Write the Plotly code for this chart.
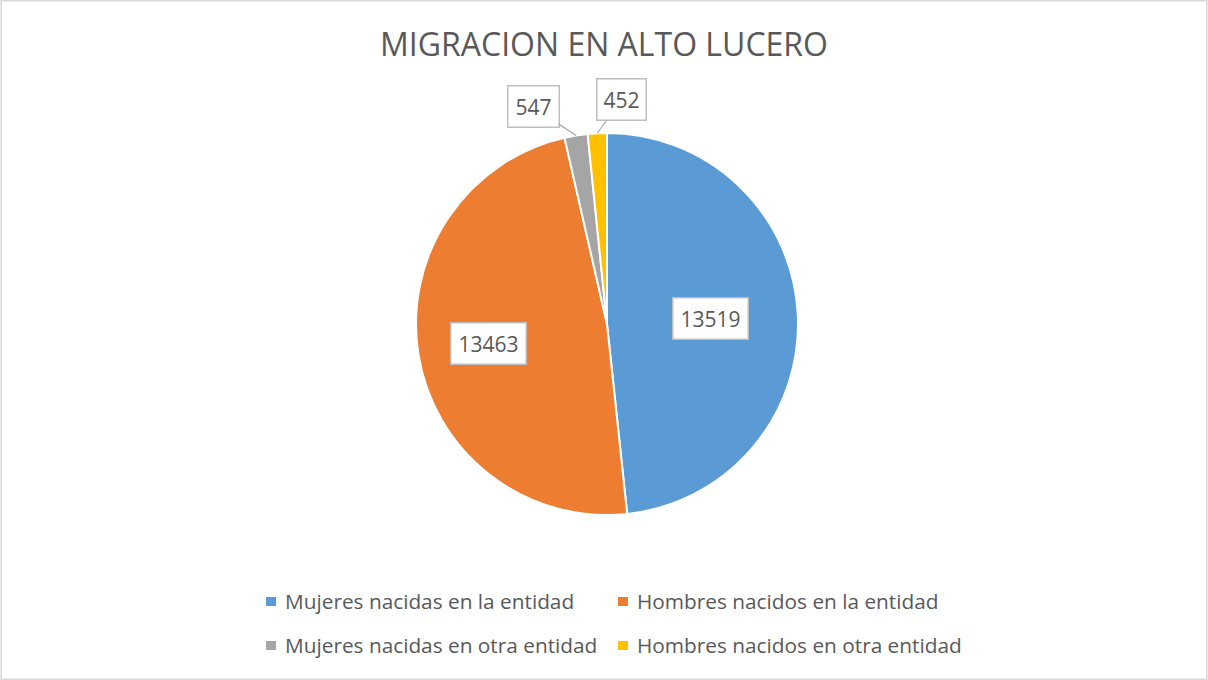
import math
import plotly.graph_objects as go

title = "MIGRACION EN ALTO LUCERO"
labels = ["Mujeres nacidas en la entidad", "Hombres nacidos en la entidad",
          "Mujeres nacidas en otra entidad", "Hombres nacidos en otra entidad"]
values = [13519, 13463, 547, 452]
colors = ["#5B9BD5", "#ED7D31", "#A5A5A5", "#FFC000"]

W, H = 1208, 680
cx, cy, R = 607, 324, 191  # pie centre / radius in px
TXT = "#595959"
FONT = "Open Sans"

fig = go.Figure(go.Pie(
    labels=labels, values=values, sort=False, direction="clockwise", rotation=0,
    marker=dict(colors=colors, line=dict(color="white", width=2)),
    textinfo="none", hoverinfo="label+value", showlegend=False,
    domain=dict(x=[(cx - R) / W, (cx + R) / W], y=[(H - cy - R) / H, (H - cy + R) / H]),
))

# data label boxes, placed from slice mid-angles
total = sum(values)
label_style = [
    dict(frac=0.545, arrow=False, w=62),
    dict(frac=0.63, arrow=False, w=62),
    dict(frac=1.0, arrow=True, ax=-43, ay=-29, w=38),
    dict(frac=1.0, arrow=True, ax=24, ay=-34, w=36),
]
cum = 0
for v, st in zip(values, label_style):
    mid = (cum + v / 2) / total * 2 * math.pi
    cum += v
    px = cx + st["frac"] * R * math.sin(mid)
    py = cy - st["frac"] * R * math.cos(mid)
    ann = dict(x=px / W, y=1 - py / H, xref="paper", yref="paper",
               text=str(v), font=dict(size=21, color=TXT, family=FONT),
               width=st["w"], align="center",
               bgcolor="white", bordercolor="#BFBFBF", borderwidth=1.5, borderpad=6)
    if st["arrow"]:
        ann.update(showarrow=True, arrowhead=0, arrowwidth=1.2, arrowcolor="#A6A6A6",
                   ax=st["ax"], ay=st["ay"], standoff=0)
    else:
        ann.update(showarrow=False)
    fig.add_annotation(**ann)

# legend (2 x 2 grid, drawn as small squares + text)
leg_cols = [271, 623]
leg_rows = [601, 645]
shapes = [dict(type="rect", xref="paper", yref="paper", x0=0.001, y0=0.001, x1=0.999, y1=0.999,
               line=dict(color="#D9D9D9", width=1.5))]
for i, (lab, col) in enumerate(zip(labels, colors)):
    mx = leg_cols[i % 2]
    my = leg_rows[i // 2]
    shapes.append(dict(type="rect", xref="paper", yref="paper",
                       x0=(mx - 5) / W, x1=(mx + 5) / W, y0=1 - (my + 5) / H, y1=1 - (my - 4) / H,
                       fillcolor=col, line=dict(width=0)))
    fig.add_annotation(x=(mx + 12) / W, y=1 - my / H, xref="paper", yref="paper",
                       xanchor="left", yanchor="middle", showarrow=False, text=lab,
                       font=dict(size=20.8, color=TXT, family=FONT))

fig.update_layout(
    width=W, height=H,
    margin=dict(l=0, r=0, t=0, b=0),
    paper_bgcolor="white", plot_bgcolor="white",
    title=dict(text=title, x=0.5, xanchor="center", y=1 - 45 / H, yanchor="middle",
               font=dict(size=32, color=TXT, family=FONT)),
    showlegend=False,
    shapes=shapes,
)

fig.write_html("out.html", config={"displayModeBar": False},
               post_script="document.body.style.margin='0px';document.body.style.overflow='hidden';")
